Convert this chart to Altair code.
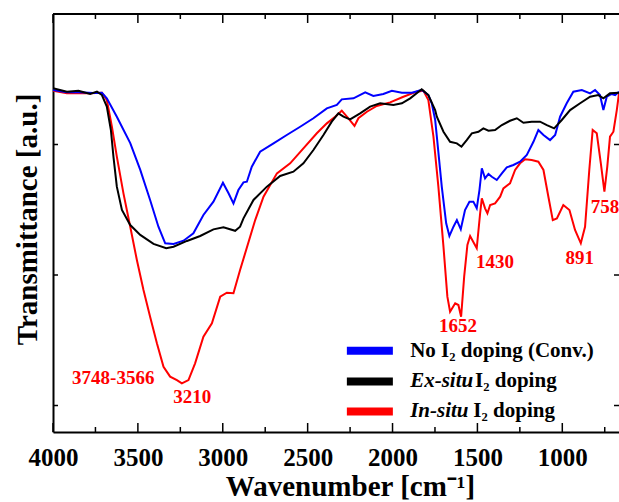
import altair as alt
import pandas as pd

# ---------------- data ----------------
series_names = ["No I2 doping (Conv.)", "Ex-situ I2 doping", "In-situ I2 doping"]
series_colors = ["#0000FF", "#000000", "#FF0000"]

wn_blue = [4000, 3920, 3850, 3761, 3712, 3683, 3624, 3545, 3486, 3428,
           3379, 3339, 3290, 3231, 3173, 3114, 3055, 2999, 2966, 2937,
           2908, 2878, 2858, 2829, 2780, 2701, 2623, 2544, 2466, 2387,
           2328, 2299, 2230, 2161, 2113, 2054, 2004, 1945, 1886, 1828,
           1789, 1769, 1749, 1739, 1710, 1684, 1665, 1641, 1621, 1598,
           1573, 1547, 1524, 1504, 1488, 1474, 1455, 1435, 1415, 1386,
           1356, 1327, 1288, 1249, 1209, 1170, 1141, 1111, 1072, 1042,
           1013, 974, 935, 885, 836, 807, 778, 758, 738, 709,
           689, 666]
t_blue = [24.18, 24.0, 24.0, 23.95, 23.97, 23.54, 22.13, 20.11, 18.05, 15.75,
          13.70, 12.43, 12.38, 12.63, 13.20, 14.60, 15.62, 17.07, 16.26, 15.49,
          16.51, 17.10, 17.15, 18.30, 19.45, 20.09, 20.73, 21.36, 22.01, 22.77,
          23.03, 23.46, 23.54, 24.00, 23.72, 23.87, 24.12, 23.97, 23.97, 24.18,
          23.79, 23.16, 21.9, 20.60, 16.77, 13.96, 12.99, 13.70, 14.21, 13.50,
          14.98, 15.62, 15.62, 15.11, 16.51, 18.18, 17.41, 17.74, 17.53, 17.28,
          17.79, 18.25, 18.43, 18.68, 19.20, 20.21, 21.11, 20.73, 20.34, 20.73,
          22.13, 23.16, 24.05, 24.18, 23.92, 24.18, 23.79, 22.64, 23.66, 23.87,
          23.79, 24.05]

wn_black = [4000, 3918, 3850, 3781, 3741, 3712, 3683, 3659, 3644, 3624,
            3594, 3545, 3486, 3408, 3333, 3290, 3211, 3133, 3055, 2996,
            2927, 2898, 2878, 2819, 2740, 2662, 2584, 2525, 2466, 2407,
            2358, 2319, 2289, 2250, 2191, 2132, 2073, 1995, 1945, 1896,
            1828, 1789, 1749, 1739, 1700, 1661, 1621, 1594, 1563, 1533,
            1494, 1465, 1435, 1396, 1356, 1308, 1268, 1229, 1180, 1131,
            1091, 1048, 1003, 954, 895, 836, 788, 758, 719, 666]
t_black = [24.31, 24.05, 24.12, 23.87, 24.05, 23.79, 22.90, 21.11, 19.07, 16.77,
           14.98, 13.83, 13.07, 12.38, 12.05, 12.17, 12.61, 12.99, 13.50, 13.66,
           13.39, 13.70, 14.34, 15.75, 16.77, 17.59, 17.92, 18.56, 19.58, 20.73,
           21.75, 22.39, 22.13, 21.93, 22.39, 22.90, 23.16, 23.03, 23.16, 23.54,
           24.23, 23.79, 22.64, 22.13, 20.98, 20.21, 20.09, 19.83, 20.34, 20.86,
           20.98, 21.24, 21.06, 21.11, 21.49, 21.82, 22.01, 21.67, 21.75, 21.75,
           21.49, 21.24, 21.88, 22.64, 23.16, 23.66, 23.79, 23.54, 23.92, 23.97]

wn_red = [4000, 3918, 3781, 3712, 3683, 3653, 3624, 3585, 3545, 3506,
          3467, 3428, 3388, 3349, 3310, 3270, 3241, 3202, 3163, 3114,
          3064, 3015, 2976, 2937, 2898, 2809, 2760, 2681, 2603, 2525,
          2446, 2387, 2338, 2299, 2260, 2224, 2201, 2151, 2093, 2014,
          1936, 1857, 1818, 1789, 1759, 1730, 1700, 1677, 1661, 1631,
          1612, 1596, 1578, 1559, 1543, 1520, 1504, 1484, 1474, 1455,
          1441, 1425, 1396, 1366, 1347, 1308, 1278, 1249, 1219, 1180,
          1141, 1111, 1082, 1056, 1032, 994, 958, 925, 891, 866,
          841, 821, 797, 773, 752, 735, 719, 699, 679, 666]
t_red = [24.12, 23.92, 23.92, 23.97, 23.41, 21.36, 19.07, 16.26, 13.70, 11.15,
         8.85, 6.80, 4.77, 2.97, 2.21, 1.95, 1.70, 1.95, 3.23, 5.27,
         6.30, 8.34, 8.64, 8.60, 10.38, 14.21, 16.00, 17.79, 18.56, 19.71,
         20.86, 21.62, 22.13, 22.59, 22.01, 21.42, 22.01, 22.51, 22.95, 23.23,
         23.66, 24.05, 24.12, 23.41, 20.60, 16.77, 12.17, 8.34, 7.19, 7.83,
         7.70, 6.80, 9.87, 12.30, 12.99, 12.43, 12.05, 14.73, 15.88, 15.11,
         14.73, 15.36, 15.49, 16.00, 16.64, 17.03, 18.05, 18.56, 18.87, 18.81,
         18.68, 18.05, 16.00, 14.21, 14.34, 15.36, 14.98, 13.45, 12.43, 13.70,
         18.05, 21.11, 20.86, 18.56, 16.38, 18.30, 20.60, 20.98, 22.64, 23.92]

# peak annotations
peak_labels = ["3748-3566", "3210", "1652", "1430", "891", "758"]
peak_wn = [3645, 3180, 1614, 1396, 897, 749]
peak_t = [2.11, 0.65, 6.09, 11.0, 11.3, 15.2]

# axis ticks
x_major = [4000, 3500, 3000, 2500, 2000, 1500, 1000]
x_minor = [3750, 3250, 2750, 2250, 1750, 1250, 750]
y_ticks = [0, 10, 20]

# ---------------- layout constants ----------------
X_MIN, X_MAX = 4000, 666
Y_MIN, Y_MAX = -2.03, 30
FONT = "Liberation Serif"
X_TITLE = "Wavenumber [cm\u207b\u00b9]"
Y_TITLE = "Transmittance [a.u.]"

# ---------------- build tables ----------------
rows = []
for name, wns, ts in [(series_names[2], wn_red, t_red),
                      (series_names[0], wn_blue, t_blue),
                      (series_names[1], wn_black, t_black)]:
    for w, t in zip(wns, ts):
        rows.append({"series": name, "wn": w, "t": t})
df = pd.DataFrame(rows)

xs = alt.Scale(domain=[X_MIN, X_MAX], nice=False, zero=False)
ys = alt.Scale(domain=[Y_MIN, Y_MAX], nice=False, zero=False)
cs = alt.Scale(domain=series_names, range=series_colors)

x_axis = alt.Axis(
    values=x_major, format="d", grid=False, tickSize=0,
    domainColor="black", domainWidth=2,
    labelFont=FONT, labelFontSize=25, labelFontWeight="bold", labelColor="black",
    labelPadding=13, labelFlush=False,
    title=X_TITLE, titleFont=FONT, titleFontSize=29,
    titleFontWeight="bold", titleColor="black", titleBaseline="alphabetic",
    titleY=63, titleX=297, titleAlign="center")
y_axis = alt.Axis(
    labels=False, ticks=False, grid=False,
    domainColor="black", domainWidth=2,
    title=Y_TITLE, titleFont=FONT, titleFontSize=29,
    titleFontWeight="bold", titleColor="black", titleAngle=270,
    titleBaseline="alphabetic", titleAlign="center", titleX=-17, titleY=205)


def X(field):
    return alt.X(field, scale=xs, axis=x_axis, title=X_TITLE)


def Y(field):
    return alt.Y(field, scale=ys, axis=y_axis, title=Y_TITLE)


lines = alt.Chart(df).mark_line(strokeWidth=2, clip=True).encode(
    x=X("wn:Q"), y=Y("t:Q"),
    color=alt.Color("series:N", scale=cs, legend=None),
    detail="series:N",
)

top_border = alt.Chart(pd.DataFrame({"t": [Y_MAX]})).mark_rule(
    color="black", strokeWidth=2).encode(y=Y("t:Q"))


def vticks(vals, yval, size, sign):
    return alt.Chart(pd.DataFrame({"wn": vals, "t": [yval] * len(vals)})).mark_tick(
        orient="vertical", size=size, thickness=1.5, color="black",
        yOffset=sign * size / 2, opacity=1).encode(x=X("wn:Q"), y=Y("t:Q"))


def hticks(vals, xval, size, sign):
    return alt.Chart(pd.DataFrame({"t": vals, "wn": [xval] * len(vals)})).mark_tick(
        orient="horizontal", size=size, thickness=1.5, color="black",
        xOffset=sign * size / 2, opacity=1).encode(x=X("wn:Q"), y=Y("t:Q"))


tick_layers = [
    vticks(x_major, Y_MIN, 9, -1), vticks(x_minor, Y_MIN, 5, -1),
    vticks(x_major, Y_MAX, 9, 1), vticks(x_minor, Y_MAX, 5, 1),
    hticks(y_ticks, X_MIN, 5, 1), hticks(y_ticks, X_MAX, 5, -1),
]

peaks = alt.Chart(pd.DataFrame({"label": peak_labels, "wn": peak_wn, "t": peak_t})).mark_text(
    font=FONT, fontSize=19, fontWeight="bold", color="#FF0000",
    align="center", baseline="middle").encode(x=X("wn:Q"), y=Y("t:Q"), text="label:N")

# custom legend (placed in data coordinates)
leg_t = [4.20, 1.84, -0.45]
leg_sw = pd.DataFrame({"series": series_names, "x1": [2269] * 3, "x2": [1998] * 3, "t": leg_t})
swatches = alt.Chart(leg_sw).mark_rule(strokeWidth=8).encode(
    x=X("x1:Q"), x2="x2:Q", y=Y("t:Q"),
    color=alt.Color("series:N", scale=cs, legend=None))

leg_italic = pd.DataFrame({"label": ["Ex-situ", "In-situ"], "wn": [1896, 1896], "t": leg_t[1:]})
leg_plain = pd.DataFrame({"label": ["No I\u2082 doping (Conv.)", "I\u2082 doping", "I\u2082 doping"],
                          "wn": [1896, 1514, 1524], "t": leg_t})
leg_text_i = alt.Chart(leg_italic).mark_text(
    font=FONT, fontSize=21, fontWeight="bold", fontStyle="italic", color="black",
    align="left", baseline="middle").encode(x=X("wn:Q"), y=Y("t:Q"), text="label:N")
leg_text_p = alt.Chart(leg_plain).mark_text(
    font=FONT, fontSize=21, fontWeight="bold", color="black",
    align="left", baseline="middle").encode(x=X("wn:Q"), y=Y("t:Q"), text="label:N")

chart = alt.layer(lines, top_border, *tick_layers, peaks, swatches, leg_text_i, leg_text_p).properties(
    width=566, height=418,
    autosize=alt.AutoSizeParams(type="none"),
    padding={"left": 53, "top": 14, "right": 0, "bottom": 70},
).configure_view(stroke=None).configure(background="white")

chart.save("out.html", embed_options={"renderer": "svg", "actions": False})
